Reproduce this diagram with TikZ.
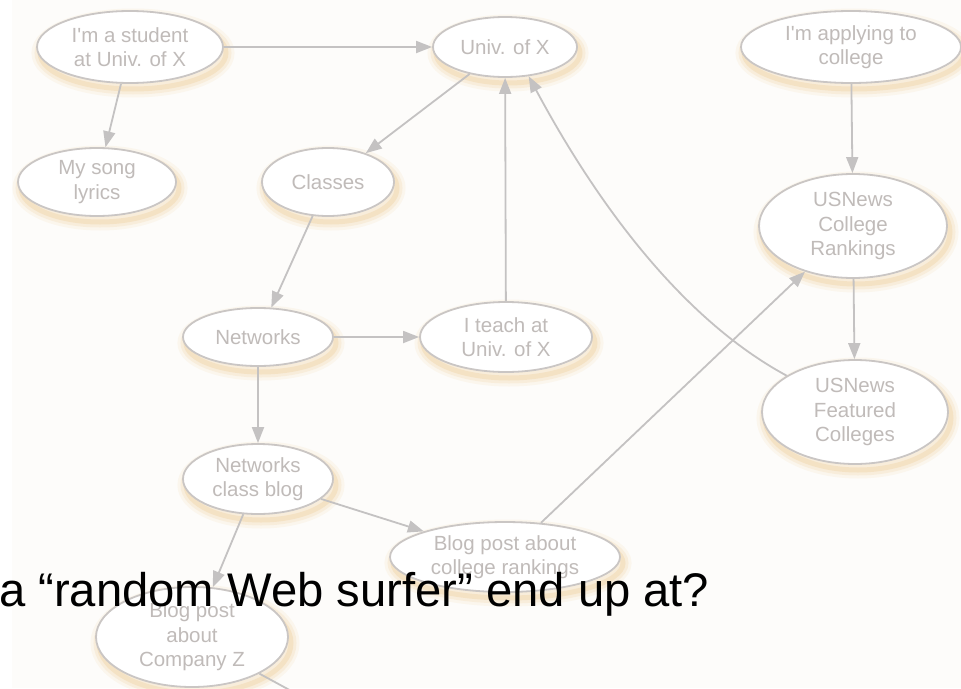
\documentclass[tikz,border=0pt]{standalone}
\usepackage{fontspec}
\setmainfont{Liberation Sans}
\newfontfamily\labelfont{Liberation Sans}
\usetikzlibrary{shapes.geometric,arrows.meta}

\definecolor{pagebg}{RGB}{253,252,250}
\definecolor{nodetext}{RGB}{192,187,185}
\definecolor{nodeline}{RGB}{202,198,196}
\definecolor{edgeline}{RGB}{196,194,194}
\definecolor{glowcol}{RGB}{236,194,128}

\tikzset{
  glowlayer/.style={draw=glowcol, draw opacity=#1},
  site/.style={ellipse, draw=nodeline, line width=1.8pt, fill=white,
    inner sep=0pt, align=center, text=nodetext,
    font=\labelfont\fontsize{20.5}{24.5}\selectfont,
    preaction={glowlayer=0.10, line width=17pt, transform canvas={xshift=3pt,yshift=-6pt}},
    preaction={glowlayer=0.16, line width=11pt, transform canvas={xshift=3pt,yshift=-6pt}},
    preaction={glowlayer=0.25, line width=5pt, transform canvas={xshift=3pt,yshift=-6pt}}},
  link/.style={draw=edgeline, line width=1.8pt, -{Triangle[length=16pt,width=12pt]}},
}

\begin{document}
\begin{tikzpicture}[x=1pt,y=-1pt]
  \useasboundingbox (0,0) rectangle (961,688);
  \clip (0,0) rectangle (961,688);
  \fill[white] (0,0) rectangle (961,688);
  \fill[pagebg] (12,0) rectangle (961,688);

  % pages of the web graph
  \node[site, minimum width=186pt, minimum height=72pt]  (student)  at (130,47)  {I'm a student\\at Univ. of X};
  \node[site, minimum width=158pt, minimum height=68pt]  (song)     at (97,182)  {My song\\lyrics};
  \node[site, minimum width=144pt, minimum height=60pt]  (univ)     at (505,47)  {Univ. of X};
  \node[site, minimum width=132pt, minimum height=68pt]  (classes)  at (328,182) {Classes};
  \node[site, minimum width=220pt, minimum height=72pt]  (applying) at (851,47)  {I'm applying to\\college};
  \node[site, minimum width=188pt, minimum height=104pt] (rankings) at (853,226) {USNews\\College\\Rankings};
  \node[site, minimum width=186pt, minimum height=104pt] (featured) at (855,412) {USNews\\Featured\\Colleges};
  \node[site, minimum width=150pt, minimum height=58pt]  (networks) at (258,337) {Networks};
  \node[site, minimum width=172pt, minimum height=70pt]  (teach)    at (506,337) {I teach at\\Univ. of X};
  \node[site, minimum width=150pt, minimum height=70pt]  (blog)     at (258,479) {Networks\\class blog};
  \node[site, minimum width=230pt, minimum height=70pt]  (colblog)  at (505,557) {Blog post about\\college rankings};
  \node[site, minimum width=192pt, minimum height=100pt] (companyZ) at (192,637) {Blog post\\about\\Company Z};
  \coordinate (zexit) at (330,712);

  % hyperlinks
  \draw[link] (student) -- (univ);
  \draw[link] (student) -- (song);
  \draw[link] (univ) -- (classes);
  \draw[link] (classes) -- (networks);
  \draw[link] (networks) -- (teach);
  \draw[link] (networks) -- (blog);
  \draw[link] (teach) -- (univ);
  \draw[link] (blog) -- (colblog);
  \draw[link] (blog) -- (companyZ);
  \draw[link] (colblog) -- (rankings);
  \draw[link] (applying) -- (rankings);
  \draw[link] (rankings) -- (featured);
  \draw[link] (featured.152) .. controls (680,318) and (595,200) .. (univ.-51);
  \draw[link] (companyZ) -- (zexit);

  % question text
  \node[anchor=base west, inner sep=0pt, text=black,
        font=\fontsize{47.2}{52}\selectfont] (question) at (-1,606)
        {a “random Web surfer” end up at?};
\end{tikzpicture}
\end{document}
